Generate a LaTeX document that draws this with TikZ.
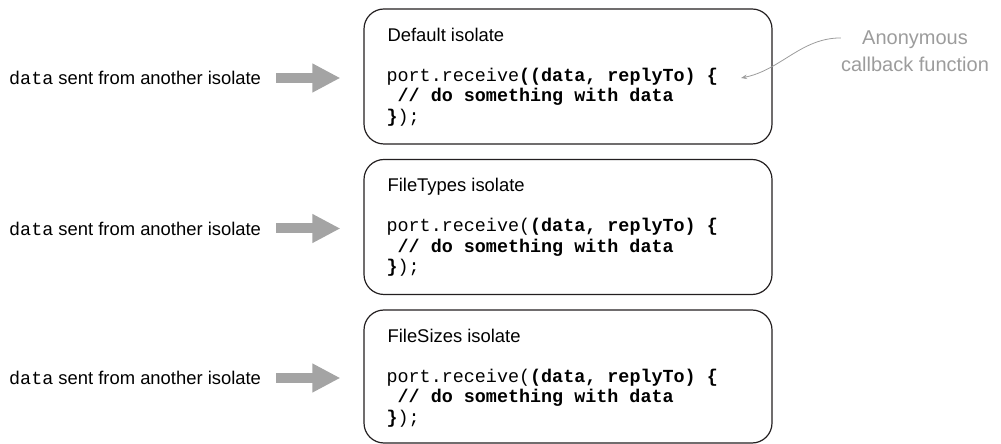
\documentclass[tikz,border=0pt]{standalone}
\usepackage{fontspec}
\setmainfont{Liberation Sans}
\setmonofont{Liberation Mono}
\usetikzlibrary{arrows.meta,positioning,calc}
\definecolor{isonoir}{HTML}{231F20}
\definecolor{isofleche}{HTML}{A4A4A4}
\definecolor{isogris}{HTML}{9C9C9C}
% corps du callback (#1 hors gras, #2 en gras)
\newcommand{\recvcode}[2]{port.receive#1\textbf{#2(data, replyTo) \{}\\\textbf{\hphantom{/}// do something with data}\\\textbf{\}});}

\begin{document}
\begin{tikzpicture}[x=1pt, y=1pt, every node/.style={font=\fontsize{18.4}{22}\selectfont, inner sep=0pt}]
  \useasboundingbox (0,0) rectangle (1001,444);
  % isolats
  \foreach \nom/\y/\h/\titre/\av/\ap in {isoA/367.5/135/Default isolate//(, isoB/217/135/FileTypes isolate/(/, isoC/67.5/133/FileSizes isolate/(/} {
    \node[draw=isonoir, line width=1.2pt, rounded corners=20pt, minimum width=408, minimum height=\h] (\nom) at (568,\y) {};
    \node[anchor=base west] (t\nom) at ($(\nom.north west)+(24,-33)$) {\titre};
    % derniere ligne du code sur la base du noeud
    \node[anchor=base west, align=left, font=\ttfamily\fontsize{18.4}{20.5}\selectfont] (c\nom) at ($(\nom.north west)+(23,-114)$) {\recvcode{\av}{\ap}};
    % donnees entrantes
    \node[anchor=west] (l\nom) at (9,\y-1.5) {\texttt{data} sent from another isolate};
    \draw[isofleche, line width=10pt, -{Triangle[length=28pt,width=27pt]}, shorten <=15pt, shorten >=23pt] (l\nom.east) -- (l\nom.east -| \nom.west);
  }
  % annotation
  \node[isogris, align=center, font=\fontsize{20}{27}\selectfont] (anon) at (915,393) {Anonymous\\callback function};
  \coordinate (bout) at (741,366);
  \draw[isogris, line width=0.8pt, -{Stealth[length=6pt,width=4.5pt]}] (anon.170) .. controls +(-40,0) and +(40,8) .. (bout);
\end{tikzpicture}
\end{document}
